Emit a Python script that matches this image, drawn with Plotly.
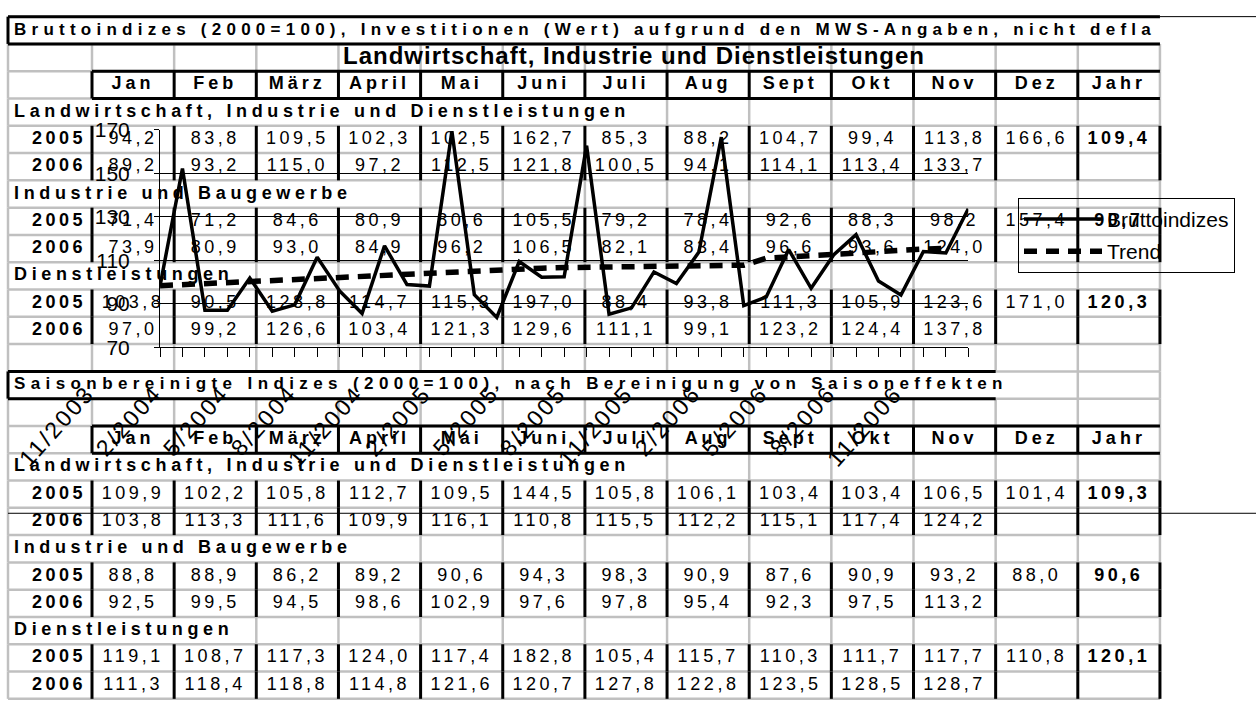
import plotly.graph_objects as go

# ---------------- chart data ----------------
months = ["11/2003", "12/2003", "1/2004", "2/2004", "3/2004", "4/2004", "5/2004",
          "6/2004", "7/2004", "8/2004", "9/2004", "10/2004", "11/2004", "12/2004",
          "1/2005", "2/2005", "3/2005", "4/2005", "5/2005", "6/2005", "7/2005",
          "8/2005", "9/2005", "10/2005", "11/2005", "12/2005", "1/2006", "2/2006",
          "3/2006", "4/2006", "5/2006", "6/2006", "7/2006", "8/2006", "9/2006",
          "10/2006", "11/2006"]
labelled_months = ["11/2003", "2/2004", "5/2004", "8/2004", "11/2004", "2/2005", "5/2005",
                   "8/2005", "11/2005", "2/2006", "5/2006", "8/2006", "11/2006"]
brutto_2003_2004 = [98.2, 152.2, 87.1, 87.1, 101.9, 86.7, 89.6, 111.5, 96.0, 85.6,
                    116.7, 98.9, 98.2, 169.3]
trend = [98.4, 98.9, 99.4, 99.9, 100.5, 101.0, 101.5, 102.0, 102.5, 103.0, 103.5, 104.0,
         104.4, 104.9, 105.3, 105.7, 106.0, 106.4, 106.7, 106.9, 107.1, 107.3, 107.4,
         107.5, 107.6, 107.7, 107.8, 111.0, 111.5, 112.0, 112.6, 113.3, 114.0, 114.6,
         115.2, 115.6, None]
y_ticks = [70, 90, 110, 130, 150, 170]

# ---------------- table data ----------------
title_top = "Bruttoindizes (2000=100), Investitionen (Wert) aufgrund den MWS-Angaben, nicht defla"
subtitle_top = "Landwirtschaft, Industrie und Dienstleistungen"
title_bottom = "Saisonbereinigte Indizes (2000=100), nach Bereinigung von Saisoneffekten"
month_headers = ["Jan", "Feb", "März", "April", "Mai", "Juni", "Juli", "Aug", "Sept",
                 "Okt", "Nov", "Dez", "Jahr"]
section_names = ["Landwirtschaft, Industrie und Dienstleistungen",
                 "Industrie und Baugewerbe", "Dienstleistungen"]
year_labels = ["2005", "2006"]

b_total_2005 = [94.2, 83.8, 109.5, 102.3, 102.5, 162.7, 85.3, 88.2, 104.7, 99.4, 113.8, 166.6]
b_total_2006 = [89.2, 93.2, 115.0, 97.2, 112.5, 121.8, 100.5, 94.1, 114.1, 113.4, 133.7]
b_ind_2005 = [71.4, 71.2, 84.6, 80.9, 80.6, 105.5, 79.2, 78.4, 92.6, 88.3, 98.2, 157.4]
b_ind_2006 = [73.9, 80.9, 93.0, 84.9, 96.2, 106.5, 82.1, 83.4, 96.6, 93.6, 124.0]
b_dl_2005 = [103.8, 90.5, 128.8, 114.7, 115.3, 197.0, 88.4, 93.8, 111.3, 105.9, 123.6, 171.0]
b_dl_2006 = [97.0, 99.2, 126.6, 103.4, 121.3, 129.6, 111.1, 99.1, 123.2, 124.4, 137.8]
b_year_2005 = [109.4, 90.7, 120.3]

s_total_2005 = [109.9, 102.2, 105.8, 112.7, 109.5, 144.5, 105.8, 106.1, 103.4, 103.4, 106.5, 101.4]
s_total_2006 = [103.8, 113.3, 111.6, 109.9, 116.1, 110.8, 115.5, 112.2, 115.1, 117.4, 124.2]
s_ind_2005 = [88.8, 88.9, 86.2, 89.2, 90.6, 94.3, 98.3, 90.9, 87.6, 90.9, 93.2, 88.0]
s_ind_2006 = [92.5, 99.5, 94.5, 98.6, 102.9, 97.6, 97.8, 95.4, 92.3, 97.5, 113.2]
s_dl_2005 = [119.1, 108.7, 117.3, 124.0, 117.4, 182.8, 105.4, 115.7, 110.3, 111.7, 117.7, 110.8]
s_dl_2006 = [111.3, 118.4, 118.8, 114.8, 121.6, 120.7, 127.8, 122.8, 123.5, 128.5, 128.7]
s_year_2005 = [109.3, 90.6, 120.1]

brutto = brutto_2003_2004 + b_total_2005 + b_total_2006

# ---------------- layout constants ----------------
W, H = 1256, 711
FONT = "Liberation Sans, Arial, sans-serif"
COL_W, X0_PX = 82.15, 92.0       # table column width / left edge of month columns (px)
ROW_H, Y0_PX = 28.2, 4.8          # table row height / top of first row (px)
XL = -(X0_PX - 8) / COL_W          # left edge of the table (label column)
GRAY = "#c0c0c0"


def fmt(v):
    return f"{v:.1f}".replace(".", ",")


def spaced(text, px, bold=False):
    s = f'<span style="letter-spacing:{px}px">{text}</span>'
    return f"<b>{s}</b>" if bold else s


fig = go.Figure()

# ---------- table grid ----------
blocks = [
    (3, [(b_total_2005, b_total_2006), (b_ind_2005, b_ind_2006), (b_dl_2005, b_dl_2006)], b_year_2005),
    (16, [(s_total_2005, s_total_2006), (s_ind_2005, s_ind_2006), (s_dl_2005, s_dl_2006)], s_year_2005),
]
section_rows, data_rows = [], []
for start, _, _ in blocks:
    for k in range(3):
        section_rows.append(start + 3 * k)
        data_rows += [start + 3 * k + 1, start + 3 * k + 2]
header_rows = [2, 15]
# last column boundary hidden by overflowing text in a row
hidden = {0: 13, 13: 11, 3: 6, 16: 6, 6: 3, 19: 3, 9: 1, 22: 1}

gx, gy, bx, by = [], [], [], []
bounds = [XL] + list(range(14))
for r in range(25):
    for b in bounds:
        is_int = b != XL
        if is_int and r in hidden and b <= hidden[r]:
            continue
        black = (is_int and r in data_rows) or (is_int and r in header_rows and b <= 12) \
            or (not is_int and r in (0, 13))
        if black:
            bx += [b, b, None]; by += [r, r + 1, None]
        else:
            gx += [b, b, None]; gy += [r, r + 1, None]
for r in range(26):
    gx += [XL, 13, None]; gy += [r, r, None]

fig.add_trace(go.Scatter(x=gx, y=gy, mode="lines", line=dict(color=GRAY, width=2.5),
                         hoverinfo="skip", showlegend=False))
# horizontal black borders
hx, hy = [], []
for (yy, x0, x1) in [(0, XL, 13), (1, XL, 13), (2, 0, 13), (3, 0, 13), (13, XL, 11),
                     (14, XL, 11), (15, 0, 13), (16, 0, 13)]:
    hx += [x0, x1, None]; hy += [yy, yy, None]
fig.add_trace(go.Scatter(x=hx, y=hy, mode="lines", line=dict(color="black", width=3),
                         hoverinfo="skip", showlegend=False))
fig.add_trace(go.Scatter(x=bx, y=by, mode="lines", line=dict(color="black", width=3),
                         hoverinfo="skip", showlegend=False))
xr = (W - X0_PX) / COL_W
fig.add_trace(go.Scatter(x=[13, xr, None, XL, xr], y=[0, 0, None, 18.2, 18.2], mode="lines",
                         line=dict(color="black", width=1), hoverinfo="skip", showlegend=False))

# ---------- table text ----------
def text_trace(xs, ys, texts, pos, size):
    fig.add_trace(go.Scatter(x=xs, y=ys, text=texts, mode="text", textposition=pos,
                             textfont=dict(family=FONT, size=size, color="black"),
                             hoverinfo="skip", showlegend=False))

LEFT_X = (14 - X0_PX) / COL_W
text_trace([LEFT_X], [0.5], [spaced(title_top, 5.25, True)], "middle right", 17)
text_trace([LEFT_X], [13.5], [spaced(title_bottom, 5.4, True)], "middle right", 17)
text_trace([(634 - X0_PX) / COL_W], [1.5], [spaced(subtitle_top, 1.0, True)], "middle center", 24)
for hr in header_rows:
    text_trace([c + 0.5 for c in range(13)], [hr + 0.5] * 13,
               [spaced(m, 4, True) for m in month_headers], "middle center", 18)

vx, vy, vt, jx, jy, jt, lx, ly, lt, sx, sy, st = ([] for _ in range(12))
for start, series, year_vals in blocks:
    for k, (s05, s06) in enumerate(series):
        r = start + 3 * k
        sx.append(LEFT_X); sy.append(r + 0.5); st.append(spaced(section_names[k], 4.65, True))
        for j, vals in enumerate((s05, s06)):
            rr = r + 1 + j
            lx.append((86 - X0_PX) / COL_W); ly.append(rr + 0.5)
            lt.append(spaced(year_labels[j], 3.5, True))
            for c, v in enumerate(vals):
                vx.append(c + 0.5); vy.append(rr + 0.5); vt.append(spaced(fmt(v), 3.5))
        jx.append(12.5); jy.append(r + 1.5); jt.append(spaced(fmt(year_vals[k]), 3.5, True))

text_trace(sx, sy, st, "middle right", 18)
text_trace(lx, ly, lt, "middle left", 18)
text_trace(vx, vy, vt, "middle center", 18)
text_trace(jx, jy, jt, "middle center", 18)

# ---------- chart (overlay) ----------
fig.add_trace(go.Scatter(x=months, y=brutto, mode="lines", name="Bruttoindizes",
                         line=dict(color="black", width=3.5), xaxis="x2", yaxis="y2",
                         legendgroup="a"))
fig.add_trace(go.Scatter(x=months, y=trend, mode="lines", name="Trend",
                         line=dict(color="black", width=5.5, dash="13px,9px"),
                         xaxis="x2", yaxis="y2", legendgroup="b"))

annotations = []
for m in labelled_months:
    annotations.append(dict(x=m, y=70, xref="x2", yref="y2", text=spaced(m, 2.5),
                            textangle=-48, xanchor="right", yanchor="top",
                            xshift=-58, yshift=-30, showarrow=False,
                            font=dict(family=FONT, size=23, color="black")))

fig.update_layout(
    width=W, height=H, margin=dict(l=0, r=0, t=0, b=0),
    paper_bgcolor="white", plot_bgcolor="rgba(0,0,0,0)",
    font=dict(family=FONT, color="black"),
    xaxis=dict(domain=[0, 1], range=[-X0_PX / COL_W, xr], visible=False, fixedrange=True),
    yaxis=dict(domain=[0, 1], range=[(H - Y0_PX) / ROW_H, -Y0_PX / ROW_H], visible=False,
               fixedrange=True),
    xaxis2=dict(domain=[160 / W, 968.3 / W], anchor="y2", type="category",
                categoryorder="array", categoryarray=months, range=[0, 36],
                showline=True, linecolor="black", linewidth=1, ticks="outside", ticklen=9,
                tickcolor="black", tickwidth=1, tickmode="linear", tick0=0, dtick=1,
                showticklabels=False, showgrid=False, zeroline=False, fixedrange=True),
    yaxis2=dict(domain=[1 - 346.7 / H, 1 - 121.7 / H], anchor="x2", range=[70, 170],
                tickmode="array", tickvals=y_ticks, showgrid=True, gridcolor="black",
                gridwidth=1, showline=True, linecolor="black", linewidth=1,
                ticks="outside", ticklen=5, tickcolor="black", ticklabelstandoff=20,
                tickfont=dict(family=FONT, size=21, color="black"), zeroline=False,
                fixedrange=True),
    legend=dict(x=1018 / W, y=1 - 192 / H, xanchor="left", yanchor="top",
                bordercolor="black", borderwidth=1, bgcolor="rgba(0,0,0,0)",
                font=dict(family=FONT, size=21, color="black"), itemwidth=78,
                tracegroupgap=2),
    annotations=annotations,
)

fig.write_html("out.html", config={"displayModeBar": False},
               post_script="document.body.style.margin='0';document.body.style.overflow='hidden';")
